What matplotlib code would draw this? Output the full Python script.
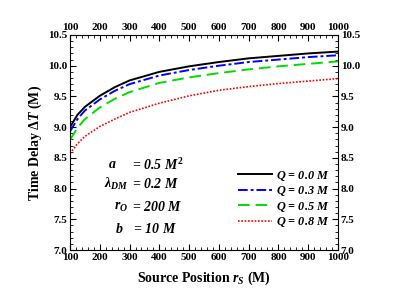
import matplotlib
matplotlib.use('Agg')
import matplotlib.pyplot as plt
from matplotlib.ticker import MultipleLocator

# source position r_S (M)
r_s = [100, 125, 150, 200, 250, 300, 400, 500, 600, 700, 800, 900, 1000]

# time delay for each charge Q
dt_q00 = [9.00, 9.20, 9.33, 9.51, 9.65, 9.76, 9.90, 9.99, 10.06, 10.12, 10.16, 10.20, 10.23]
dt_q03 = [8.93, 9.13, 9.27, 9.45, 9.59, 9.70, 9.84, 9.93, 10.00, 10.06, 10.10, 10.14, 10.17]
dt_q05 = [8.79, 8.99, 9.13, 9.32, 9.46, 9.57, 9.72, 9.81, 9.88, 9.94, 9.99, 10.03, 10.07]
dt_q08 = [8.57, 8.73, 8.85, 9.01, 9.13, 9.24, 9.39, 9.51, 9.60, 9.66, 9.71, 9.75, 9.79]

labels = ['$Q$ = 0.0 $M$', '$Q$ = 0.3 $M$', '$Q$ = 0.5 $M$', '$Q$ = 0.8 $M$']
xticks = [100, 200, 300, 400, 500, 600, 700, 800, 900, 1000]
yticks = [7.0, 7.5, 8.0, 8.5, 9.0, 9.5, 10.0, 10.5]

plt.rcParams['font.family'] = 'Liberation Serif'
plt.rcParams['font.weight'] = 'bold'
plt.rcParams['mathtext.fontset'] = 'custom'
plt.rcParams['mathtext.rm'] = 'Liberation Serif:bold'
plt.rcParams['mathtext.it'] = 'Liberation Serif:bold:italic'
plt.rcParams['mathtext.bf'] = 'Liberation Serif:bold'

fig = plt.figure(figsize=(3.93, 3.01), dpi=100)
ax = fig.add_axes([70 / 393, 1 - 250 / 301, 268 / 393, 215 / 301])

ax.plot(r_s, dt_q00, color='black', lw=1.4, ls='-', label=labels[0])
ax.plot(r_s, dt_q03, color='blue', lw=1.4, ls=(0, (5, 1.5, 1.5, 1.5)), label=labels[1])
ax.plot(r_s, dt_q05, color='#00dd00', lw=1.4, ls=(0, (6, 3)), label=labels[2])
ax.plot(r_s, dt_q08, color='red', lw=1.2, ls=(0, (1, 1)), label=labels[3])

ax.set_xlim(100, 1000)
ax.set_ylim(7.0, 10.5)
ax.set_xticks(xticks)
ax.set_yticks(yticks)
ax.xaxis.set_minor_locator(MultipleLocator(20))
ax.yaxis.set_minor_locator(MultipleLocator(0.1))
ax.tick_params(which='both', direction='in', top=True, right=True,
               labeltop=True, labelright=True, labelsize=8, pad=2)
ax.tick_params(which='major', length=4, width=0.8)
ax.tick_params(which='minor', length=2, width=0.6)
ax.yaxis.set_major_formatter(plt.FormatStrFormatter('%.1f'))
for lab in ax.get_xticklabels() + ax.get_yticklabels():
    lab.set_fontweight('bold')

ax.set_xlabel('Source Position $r_S$ (M)', fontsize=10, fontweight='bold', labelpad=6)
ax.set_ylabel(r'Time Delay $\Delta T$ (M)', fontsize=10, fontweight='bold', labelpad=3)

txt = dict(fontsize=10, style='italic', fontweight='bold', transform=fig.transFigure,
           va='center')
fig.text(108 / 393, 1 - 165 / 301, '$a$', **txt)
fig.text(132 / 393, 1 - 165 / 301, '= 0.5 $M^2$', **txt)
fig.text(104 / 393, 1 - 184 / 301, r'$\lambda_{DM}$', **txt)
fig.text(132 / 393, 1 - 184 / 301, '= 0.2 $M$', **txt)
fig.text(114 / 393, 1 - 207 / 301, '$r_O$', **txt)
fig.text(132 / 393, 1 - 207 / 301, '= 200 $M$', **txt)
fig.text(115 / 393, 1 - 229 / 301, '$b$', **txt)
fig.text(130 / 393, 1 - 229 / 301, ' = 10 $M$', **txt)

leg = ax.legend(loc='lower right', bbox_to_anchor=(0.985, 0.075), frameon=False,
                fontsize=8.8, handlelength=2.8, handletextpad=0.3, labelspacing=0.12,
                borderaxespad=0)
for t in leg.get_texts():
    t.set_fontstyle('italic')
    t.set_fontweight('bold')

fig.savefig('out.png', dpi=100)
